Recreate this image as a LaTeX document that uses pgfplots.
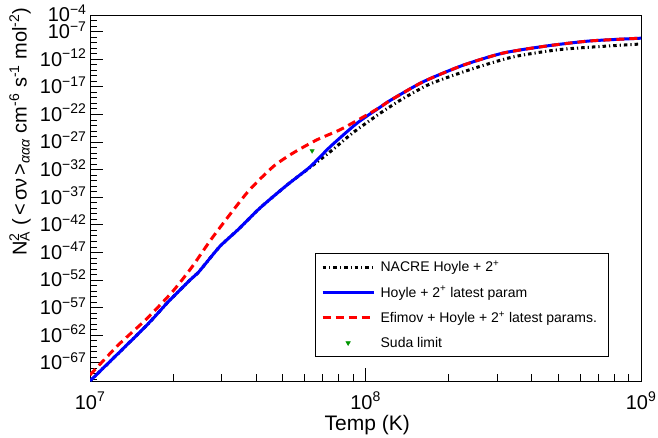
\documentclass[border=0pt]{standalone}
\usepackage{pgfplots}
\pgfplotsset{compat=1.18}
\usepackage{fontspec}
\setmainfont{Liberation Sans}
\definecolor{rootred}{RGB}{255,0,0}
\definecolor{rootblue}{RGB}{0,0,255}
\definecolor{rootgreen}{RGB}{0,150,0}
\pgfplotsset{
  linelegend/.style={legend image code/.code={\draw[#1] (0pt,0pt) -- (51pt,0pt);}},
  marklegend/.style={legend image code/.code={\draw[#1] plot coordinates {(25.5pt,0pt)};}},
}
\begin{document}
\begin{tikzpicture}
\path[use as bounding box] (-90pt,-57pt) rectangle (568pt,381pt);
\begin{axis}[
  scale only axis, width=551pt, height=366pt,
  xmode=log, ymode=log,
  xmin=1e7, xmax=1e9, ymin=5.01e-71, ymax=1e-4,
  axis line style={line width=0.8pt},
  tick align=inside,
  xtick pos=bottom, ytick pos=left,
  major tick length=13pt, minor tick length=7pt,
  tick style={line width=0.7pt, black},
  xtick={1e7,1e8,1e9},
  xticklabels={10\textsuperscript{7},10\textsuperscript{8},10\textsuperscript{9}},
  minor xtick={2e7,3e7,4e7,5e7,6e7,7e7,8e7,9e7,2e8,3e8,4e8,5e8,6e8,7e8,8e8,9e8},
  ytick={1e-67,1e-62,1e-57,1e-52,1e-47,1e-42,1e-37,1e-32,1e-27,1e-22,1e-17,1e-12,1e-7,1e-4},
  yticklabels={10\textsuperscript{−67},10\textsuperscript{−62},10\textsuperscript{−57},10\textsuperscript{−52},10\textsuperscript{−47},10\textsuperscript{−42},10\textsuperscript{−37},10\textsuperscript{−32},10\textsuperscript{−27},10\textsuperscript{−22},10\textsuperscript{−17},10\textsuperscript{−12},10\textsuperscript{−7},10\textsuperscript{−4}},
  minor ytick={1e-70,1e-69,1e-68,1e-66,1e-65,1e-64,1e-63,1e-61,1e-60,1e-59,1e-58,1e-56,1e-55,1e-54,1e-53,1e-51,1e-50,1e-49,1e-48,1e-46,1e-45,1e-44,1e-43,1e-41,1e-40,1e-39,1e-38,1e-36,1e-35,1e-34,1e-33,1e-31,1e-30,1e-29,1e-28,1e-26,1e-25,1e-24,1e-23,1e-21,1e-20,1e-19,1e-18,1e-16,1e-15,1e-14,1e-13,1e-11,1e-10,1e-9,1e-8,1e-6,1e-5},
  ticklabel style={font=\fontsize{20}{20}\selectfont},
  xticklabel style={anchor=base, yshift=-28pt},
  yticklabel style={anchor=base east, yshift=-7pt},
  xlabel={Temp (K)},
  xlabel style={font=\fontsize{21}{21}\selectfont, at={(axis description cs:0.503,0)}, anchor=base, yshift=-49pt},
  ylabel={N\rlap{\textsuperscript{2}}\textsubscript{A}\ (\,<\,σν\,>\textsubscript{\textit{ααα}} cm\textsuperscript{-6} s\textsuperscript{-1} mol\textsuperscript{-2})},
  ylabel style={font=\fontsize{20}{20}\selectfont, at={(axis description cs:-0.127,1.03)}, anchor=east},
  legend style={at={(axis description cs:0.408,0.0656)}, anchor=south west, draw=black, line width=0.6pt,
    font=\fontsize{14}{16}\selectfont, row sep=9pt, inner xsep=6pt, inner ysep=6pt,
    nodes={inner xsep=5.5pt}},
  legend cell align=left,
  linelegend,
]
% NACRE Hoyle + 2+
\addplot[black, line width=3pt, dash pattern=on 3.5pt off 3pt on 1.2pt off 3pt, smooth, tension=0.4] coordinates {
(1.0e7,5.01e-71) (1.585e7,3.16e-61) (1.919e7,1e-56) (2.307e7,1e-52) (2.466e7,2.0e-51)
(2.951e7,1e-46) (3.443e7,1.26e-43) (4.140e7,1.10e-39) (5.188e7,1.585e-35) (6.295e7,2.51e-32)
(7.430e7,1.585e-29) (9.016e7,5.01e-26) (1.130e8,1.585e-22) (1.361e8,6.31e-20) (1.714e8,3.16e-17)
(2.393e8,1.26e-14) (3.428e8,2.51e-12) (5.212e8,6.31e-11) (1e9,5.62e-10)
};
\addlegendentry{NACRE Hoyle + 2\textsuperscript{+}}
% Hoyle + 2+ latest param
\addplot[rootblue, line width=3pt, smooth, tension=0.4] coordinates {
(1.0e7,5.01e-71) (1.585e7,3.16e-61) (1.919e7,1e-56) (2.307e7,1e-52) (2.466e7,2.0e-51)
(2.951e7,1e-46) (3.443e7,1.26e-43) (4.140e7,1.10e-39) (5.188e7,1.585e-35) (6.295e7,3.16e-32)
(7.430e7,1.26e-28) (9.311e7,2.51e-24) (1.130e8,2.0e-21) (1.227e8,3.16e-20) (1.618e8,7.94e-17)
(2.259e8,7.94e-14) (3.155e8,1.26e-11) (4.560e8,2.51e-10) (6.531e8,2.0e-9) (1e9,6.31e-9)
};
\addlegendentry{Hoyle + 2\textsuperscript{+} latest param}
% Efimov + Hoyle + 2+ latest params.
\addplot[rootred, line width=3pt, dash pattern=on 8pt off 5pt, smooth, tension=0.4] coordinates {
(1.0e7,6.31e-70) (1.265e7,1.585e-64) (1.585e7,5.01e-60) (1.986e7,6.31e-55) (2.344e7,2.24e-50)
(2.793e7,6.31e-45) (3.715e7,6.31e-37) (4.613e7,3.16e-32) (5.458e7,1e-29) (6.668e7,2.51e-27)
(8.072e7,1.585e-25) (9.795e7,3.16e-23) (1.130e8,2.0e-21) (1.227e8,3.16e-20) (1.618e8,7.94e-17)
(2.259e8,7.94e-14) (3.155e8,1.26e-11) (4.560e8,2.51e-10) (6.531e8,2.0e-9) (1e9,6.31e-9)
};
\addlegendentry{Efimov + Hoyle + 2\textsuperscript{+} latest params.}
% Suda limit
\addplot[only marks, mark=triangle*, mark size=2.5pt, rootgreen, mark options={rotate=180, fill=rootgreen}, marklegend] coordinates {
(6.4e7,2.5e-29)
};
\addlegendentry{Suda limit}
\end{axis}
\end{tikzpicture}
\end{document}
